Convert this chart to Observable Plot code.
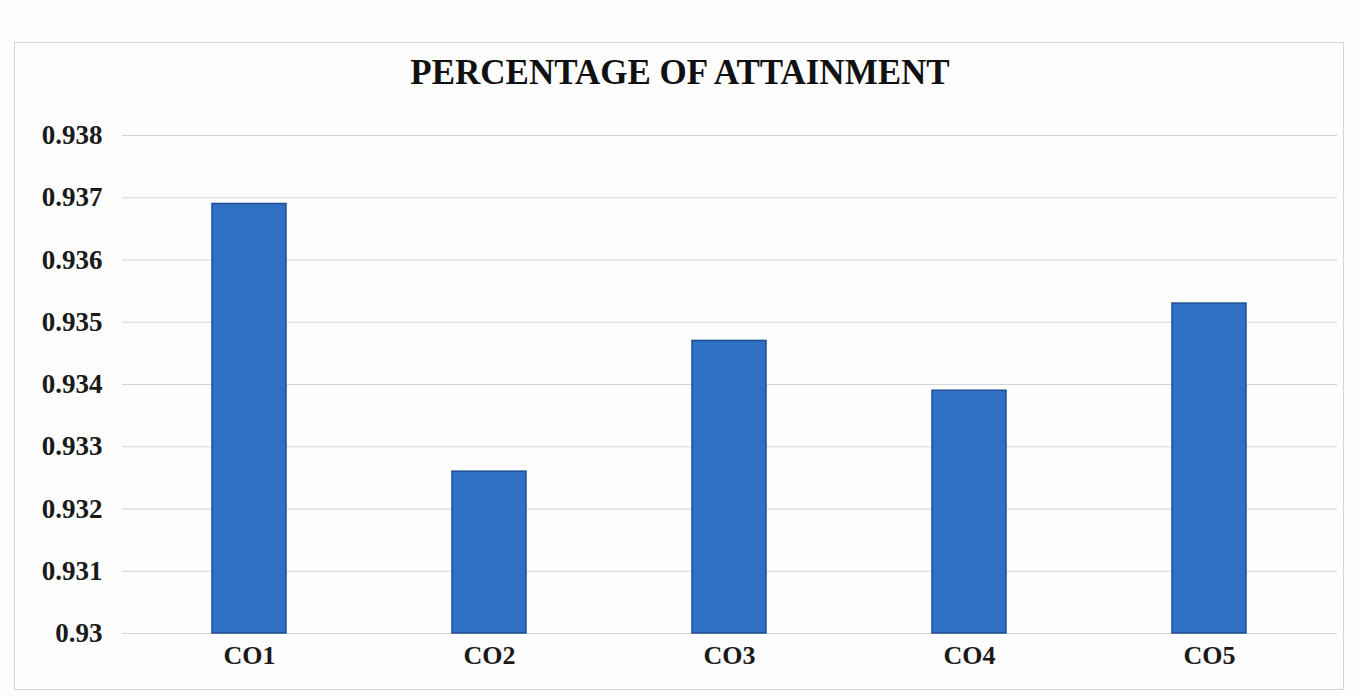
<!DOCTYPE html>
<html>
<head>
<meta charset="utf-8">
<script src="https://cdn.jsdelivr.net/npm/d3@7"></script>
<script src="https://cdn.jsdelivr.net/npm/@observablehq/plot@0.6"></script>
<style>
  html, body { margin: 0; padding: 0; background: #ffffff; }
  #wrap { position: relative; width: 1360px; height: 698px; overflow: hidden; background: #fdfdfd; }
  #frame { position: absolute; left: 14px; top: 42px; width: 1330px; height: 648px; border: 1px solid #d6d6d6; box-sizing: border-box; }
  #title { position: absolute; left: 0; top: 53px; width: 1360px; text-align: center;
           font-family: "Liberation Serif", "Times New Roman", serif; font-weight: bold; font-size: 35px; color: #111; }
  #chart { position: absolute; left: 0; top: 100px; }
</style>
</head>
<body>
<div id="wrap">
  <div id="frame"></div>
  <div id="title">PERCENTAGE OF ATTAINMENT</div>
  <div id="chart"></div>
</div>
<script>
const categories = ["CO1", "CO2", "CO3", "CO4", "CO5"];
const values = [0.9369, 0.9326, 0.9347, 0.9339, 0.9353];
const yTicks = [0.93, 0.931, 0.932, 0.933, 0.934, 0.935, 0.936, 0.937, 0.938];

const data = categories.map((c, i) => ({ category: c, value: values[i] }));

const chart = Plot.plot({
  width: 1360,
  height: 598,
  marginTop: 35,
  marginBottom: 65,
  marginLeft: 122,
  marginRight: 23,
  style: { background: "transparent", fontFamily: "Liberation Serif, Times New Roman, serif" },
  x: { domain: categories, paddingInner: 0.69, paddingOuter: 0.37, label: null },
  y: { domain: [yTicks[0], yTicks[yTicks.length - 1]], clamp: true, label: null },
  marks: [
    Plot.gridY(yTicks, { stroke: "#d4d4d4", strokeOpacity: 1, strokeWidth: 1.2 }),
    Plot.barY(data, { x: "category", y: "value", fill: "#2f6fc4", stroke: "#1d4f94", strokeWidth: 1.5 }),
    Plot.axisY(yTicks, {
      tickSize: 0, tickPadding: 20, label: null,
      tickFormat: d => String(+d.toFixed(3)),
      fontSize: 27, fontWeight: "bold", fill: "#1a1a1a"
    }),
    Plot.axisX({
      tickSize: 0, tickPadding: 12, label: null,
      fontSize: 26, fontWeight: "bold", fill: "#1a1a1a"
    })
  ]
});
document.getElementById("chart").appendChild(chart);
</script>
</body>
</html>
